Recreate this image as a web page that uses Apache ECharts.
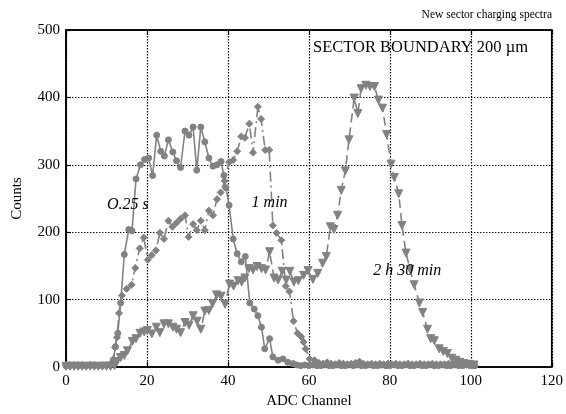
<!DOCTYPE html>
<html>
<head>
<meta charset="utf-8">
<script src="https://cdn.jsdelivr.net/npm/echarts@6/dist/echarts.min.js"></script>
<style>
  html, body { margin: 0; padding: 0; background: #fff; }
  #chart { width: 566px; height: 414px; }
</style>
</head>
<body>
<div id="chart"></div>
<script>
// Axis ticks
const xTicks = [0, 20, 40, 60, 80, 100, 120];
const yTicks = [0, 100, 200, 300, 400, 500];

// Curve names, as printed next to each spectrum
const curveNames = ['O.25 s', '1 min', '2 h 30 min'];

// Spectrum after 0.25 s of charging: [ADC channel, counts]
const spec025s = [
  [0, 2], [1, 2], [2, 3], [3, 2], [4, 2], [5, 2], [6, 3], [7, 2], [8, 2], [9, 2], [10, 3],
  [11, 4], [11.6, 8], [12.2, 30], [12.8, 50], [13.5, 95], [14.4, 167], [15.5, 204], [16.3, 202],
  [17.3, 279], [18.4, 300], [19.4, 308], [20.4, 310], [21.4, 284], [22.4, 344], [23.4, 320],
  [24.3, 313], [25.3, 337], [26.4, 319], [27.3, 306], [28.3, 296], [29.4, 350], [30.4, 344],
  [31.4, 356], [32.3, 292], [33.3, 356], [34.3, 334], [35.3, 310], [36.3, 298], [37.3, 300],
  [38.3, 305], [39.0, 284], [39.5, 266], [40.3, 240], [41.3, 190], [42.3, 168], [43.3, 156],
  [44.3, 164], [45.4, 95], [46.5, 86], [47.4, 76], [48.3, 59], [49.1, 27], [50.3, 42],
  [51.1, 15], [52.4, 10], [53.6, 12], [54.8, 7], [56.1, 5],
  [57, 3], [58, 2], [59, 3], [60, 2], [61, 3], [62, 2], [63, 2], [64, 3], [65, 2], [66, 2],
  [67, 3], [68, 2], [69, 2], [70, 3], [71, 2], [72, 3], [73, 2], [74, 2], [75, 3], [76, 2],
  [77, 2], [78, 3], [79, 2], [80, 2], [81, 3], [82, 2], [83, 2], [84, 3], [85, 2], [86, 2],
  [87, 3], [88, 2], [89, 2], [90, 3], [91, 2], [92, 2], [93, 3], [94, 2], [95, 2], [96, 3],
  [97, 2], [98, 2], [99, 3], [100, 2], [101, 2]
];

// Spectrum after 1 min of charging
const spec1min = [
  [0, 3], [1, 3], [2, 2], [3, 3], [4, 3], [5, 2], [6, 3], [7, 3], [8, 2], [9, 3], [10, 3], [11, 4],
  [11.7, 12], [12.1, 29], [12.6, 44], [13.1, 80], [13.8, 106], [15.0, 116], [16.2, 122],
  [17.1, 147], [18.2, 176], [19.2, 192], [20.2, 159], [21.2, 166], [22.2, 173], [23.2, 199],
  [24.2, 190], [25.3, 217], [26.3, 208], [27.3, 214], [28.3, 220], [29.4, 225], [30.3, 193],
  [31.4, 212], [32.3, 203], [33.3, 217], [34.3, 203], [35.3, 232], [36.3, 225], [37.3, 249],
  [38.2, 259], [39.2, 276], [40.3, 304], [41.3, 307], [42.3, 320], [43.3, 342], [44.2, 340],
  [45.3, 361], [46.2, 318], [47.4, 386], [48.2, 368], [49.2, 322], [50.2, 322], [51.1, 210],
  [52.0, 199], [53.2, 188], [54.3, 120], [55.2, 112], [56.2, 68], [57.2, 50], [58.1, 45],
  [58.7, 37], [59.2, 27], [60.2, 12], [61.4, 10], [62.5, 6], [63.5, 5], [64.5, 7], [65.5, 5],
  [66.5, 4], [67.5, 6], [68.5, 5], [69.5, 4], [70.5, 5], [71.5, 6], [72.5, 8], [73.5, 5],
  [74.5, 4], [75.5, 5], [76.5, 4], [77.5, 5], [78.5, 4], [79.5, 5], [80.5, 4], [81.5, 5],
  [82.5, 4], [83.5, 4], [84.5, 5], [85.5, 4], [86.5, 4], [87.5, 5], [88.5, 4], [89.5, 4],
  [90.5, 5], [91.5, 4], [92.5, 4], [93.5, 4], [94.5, 5], [95.5, 4], [96.5, 4], [97.5, 3],
  [98.5, 4], [99.5, 3], [100.5, 3]
];

// Spectrum after 2 h 30 min of charging
const spec2h30 = [
  [0, 1], [1, 1], [2, 1], [3, 1], [4, 1], [5, 1], [6, 1], [7, 1], [8, 1], [9, 1], [10, 1],
  [11, 1], [12, 2], [12.6, 8], [13.5, 14], [14.4, 17], [15.2, 24], [16.4, 38], [17.3, 42],
  [18.3, 50], [19.3, 52], [20.1, 54], [21.2, 49], [22.3, 59], [23.2, 51], [24.2, 64],
  [25.3, 64], [26.4, 59], [27.3, 56], [28.3, 51], [29.4, 66], [30.4, 62], [31.4, 76],
  [32.4, 68], [33.3, 56], [34.3, 83], [35.3, 84], [36.2, 94], [37.2, 107], [38.3, 105],
  [39.3, 93], [40.4, 123], [41.4, 120], [42.5, 128], [43.4, 126], [44.2, 132], [45.2, 146],
  [46.2, 144], [47.2, 149], [48.3, 146], [49.3, 144], [50.3, 171], [51.4, 132], [52.4, 129],
  [53.4, 142], [54.4, 129], [55.3, 142], [56.3, 126], [57.4, 128], [58.7, 136], [59.8, 143],
  [61.0, 130], [62.2, 139], [63.4, 154], [64.3, 164], [65.3, 208], [66.2, 204], [67.1, 225],
  [68.0, 262], [69.0, 291], [69.9, 337], [71.2, 399], [72.1, 376], [72.9, 413], [74.1, 418],
  [75.1, 416], [76.2, 416], [77.2, 396], [78.2, 384], [79.2, 345], [80.3, 301], [81.1, 281],
  [82.2, 257], [83.0, 210], [84.0, 169], [85.0, 145], [86.0, 122], [87.3, 95], [88.1, 81],
  [89.3, 56], [90.1, 42], [91.0, 39], [92.2, 27], [93.2, 23], [94.2, 20], [95.3, 13],
  [96.3, 10], [97.3, 7], [98.3, 5], [99.6, 4], [100.8, 3]
];

// Where each curve name sits, in data coordinates [channel, counts]
const curveNameAt = [[15.3, 241], [50.3, 244], [84.3, 143]];

const SERIF = '"Liberation Serif", "DejaVu Serif", "Times New Roman", serif';
const GREY = '#828282';

const chart = echarts.init(document.getElementById('chart'), null, { renderer: 'canvas' });

function spectrum(name, data, symbol, size, rotate, lineType) {
  return {
    name: name,
    type: 'line',
    data: data,
    symbol: symbol,
    symbolSize: size,
    symbolRotate: rotate,
    showAllSymbol: true,
    animation: false,
    itemStyle: { color: GREY, borderColor: GREY },
    lineStyle: { color: GREY, width: 1.6, type: lineType },
    emphasis: { disabled: true },
    z: 3
  };
}

const axisFont = { fontFamily: SERIF, fontSize: 15, color: '#000' };
const dotted = { color: '#000', width: 1.2, type: [1.4, 1.6] };

chart.setOption({
  backgroundColor: '#fff',
  animation: false,
  grid: {
    left: 66, right: 13, top: 30, bottom: 42,
    show: true, borderColor: '#000', borderWidth: 1.6, backgroundColor: 'transparent'
  },
  xAxis: [{
    type: 'value',
    min: xTicks[0], max: xTicks[xTicks.length - 1], interval: xTicks[1] - xTicks[0],
    name: 'ADC Channel', nameLocation: 'middle', nameGap: 27,
    nameTextStyle: axisFont,
    axisLine: { show: true, onZero: false, lineStyle: { color: '#000', width: 1.6 } },
    axisTick: { show: true, inside: true, length: 5, lineStyle: { color: '#000', width: 1.2 } },
    axisLabel: Object.assign({ margin: 7 }, axisFont),
    splitLine: { show: true, lineStyle: dotted }
  }, {
    type: 'value', position: 'top',
    min: xTicks[0], max: xTicks[xTicks.length - 1], interval: xTicks[1] - xTicks[0],
    axisLine: { show: true, onZero: false, lineStyle: { color: '#000', width: 1.6 } },
    axisTick: { show: true, inside: true, length: 5, lineStyle: { color: '#000', width: 1.2 } },
    axisLabel: { show: false },
    splitLine: { show: false }
  }],
  yAxis: {
    type: 'value',
    min: yTicks[0], max: yTicks[yTicks.length - 1], interval: yTicks[1] - yTicks[0],
    name: 'Counts', nameLocation: 'middle', nameGap: 41, nameRotate: 90,
    nameTextStyle: axisFont,
    axisLine: { show: true, onZero: false, lineStyle: { color: '#000', width: 1.6 } },
    axisTick: { show: true, inside: true, length: 5, lineStyle: { color: '#000', width: 1.2 } },
    axisLabel: Object.assign({ margin: 6 }, axisFont),
    splitLine: { show: true, lineStyle: dotted }
  },
  series: [
    spectrum(curveNames[2], spec2h30, 'triangle', 8, 180, [9, 5]),
    spectrum(curveNames[1], spec1min, 'diamond', 7, 0, [10, 4, 2, 4]),
    spectrum(curveNames[0], spec025s, 'circle', 6, 0, 'solid')
  ]
});

// Text: page title, panel caption and the curve names
const graphics = [
  {
    type: 'text', right: 14, top: 9,
    style: { text: 'New sector charging spectra', font: '11.5px ' + SERIF, fill: '#000' }
  },
  {
    type: 'text', left: 313, top: 39,
    style: { text: 'SECTOR BOUNDARY 200 \u00b5m', font: '16.5px ' + SERIF, fill: '#000' }
  }
];
curveNames.forEach(function (name, i) {
  const p = chart.convertToPixel({ gridIndex: 0 }, curveNameAt[i]);
  graphics.push({
    type: 'text', x: p[0], y: p[1], z: 10,
    style: {
      text: name, font: 'italic 16px ' + SERIF, fill: '#000',
      align: 'center', verticalAlign: 'middle'
    }
  });
});
chart.setOption({ graphic: graphics });
</script>
</body>
</html>
